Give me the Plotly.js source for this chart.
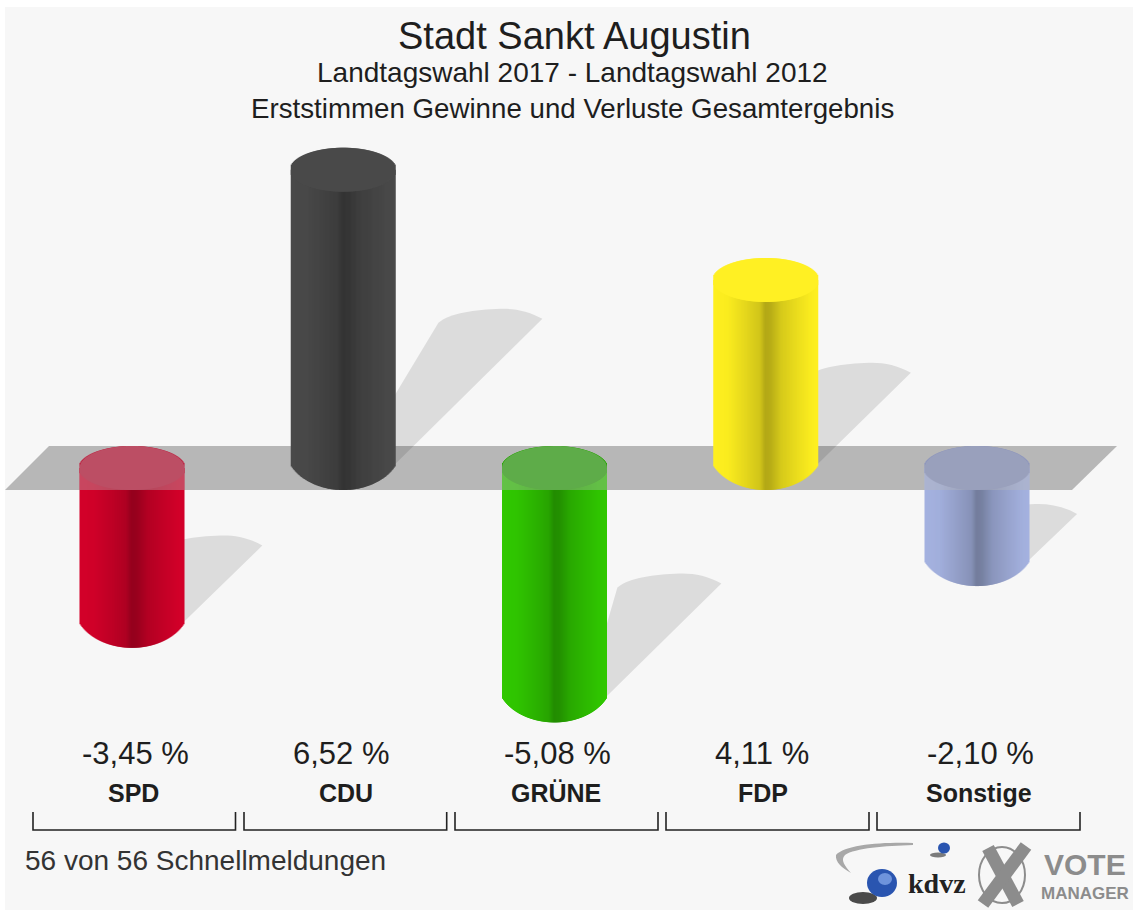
<!DOCTYPE html>
<html><head><meta charset="utf-8">
<script src="https://cdn.plot.ly/plotly-3.0.1.min.js"></script>
<style>html,body{margin:0;padding:0;background:#fff;overflow:hidden}#chart{width:1133px;height:911px}</style>
</head><body><div id="chart"></div>
<script>
// ---- data ----
const parties = ["SPD","CDU","GRÜNE","FDP","Sonstige"];
const values = [-3.45, 6.52, -5.08, 4.11, -2.10];
const valueLabels = ["-3,45 %","6,52 %","-5,08 %","4,11 %","-2,10 %"];
const baseColors = [[212,0,42],[74,74,74],[48,200,0],[255,240,32],[165,178,224]];
const capColors = [[190,15,50],[74,74,74],[40,165,5],[255,240,36],[135,145,190]];
const shadeStops = [[-1,1],[-0.7,0.98],[-0.35,0.89],[-0.1,0.82],[0.0,0.70],[0.1,0.72],[0.3,0.84],[0.6,0.92],[0.85,0.98],[1,1]];

// ---- scale: pixels per unit of the two axes ----
const pxX = 211.25, pxY = 45.75, x0 = 132, y0 = 468, W = 1133, H = 911;
const X = p => (p - x0) / pxX, Y = p => (y0 - p) / pxY;
const ry = 22 / pxY, halfPx = 53, stripN = 104;

function shade(t){
  for(let i=1;i<shadeStops.length;i++){
    const a=shadeStops[i-1], b=shadeStops[i];
    if(t<=b[0]){ return a[1]+(b[1]-a[1])*(t-a[0])/(b[0]-a[0]); }
  }
  return 1;
}
const rgb = (c,k=1) => `rgb(${Math.round(c[0]*k)},${Math.round(c[1]*k)},${Math.round(c[2]*k)})`;

// cylinders: overlapping narrow bars whose ends follow the curves
const body={x:[],base:[],y:[],color:[]}, cap={x:[],base:[],y:[],color:[]};
values.forEach((v,i)=>{
  for(let s=0;s<stripN;s++){
    const off=s+0.5-stripN/2, t=off/halfPx, xc=i+off/pxX, h=ry*Math.sqrt(1-t*t);
    const foot=(42.4*Math.sqrt(1-0.85*t*t)-20.4)/pxY;
    const lo=Math.min(v,0)-foot, hi=Math.max(v,0);
    body.x.push(xc); body.base.push(lo); body.y.push(hi-lo); body.color.push(rgb(baseColors[i],shade(t)));
    cap.x.push(xc); cap.base.push(hi-h); cap.y.push(2*h); cap.color.push(rgb(capColors[i]));
  }
});
const barW = 2.02/pxX;
const traces=[
 {type:'bar',opacity:1,x:body.x,base:body.base,y:body.y,width:barW,marker:{color:body.color,opacity:1,line:{width:0}},hoverinfo:'skip',showlegend:false},
 {type:'bar',opacity:1,x:cap.x,base:cap.base,y:cap.y,width:barW,marker:{color:cap.color,opacity:1,line:{width:0}},hoverinfo:'skip',showlegend:false}
];

// ---- shapes ----
const shapes=[];
const poly=(pts,fill,layer='below')=>shapes.push({type:'path',layer,line:{width:0},fillcolor:fill,
   path:'M'+pts.map(p=>X(p[0])+','+Y(p[1])).join('L')+'Z'});
shapes.push({type:'rect',layer:'below',x0:X(5),x1:X(W),y0:Y(7),y1:Y(910),fillcolor:'#f7f7f7',line:{width:0}});
poly([[5,490],[1072,490],[1117,446],[49,446]],'#b7b7b7');

const c=(a,b)=>X(a)+','+Y(b);
// shadows fall up and to the right, proportional to the value
values.forEach((v,i)=>{
  const cx=i*pxX+x0, R=cx+halfPx, h=Math.abs(v)*pxY, s=0.49*h;
  const foot=y0+(v<0?h:0)-3, tx=R+s, ty=foot-s;
  shapes.push({type:'path',layer:'below',line:{width:0},fillcolor:'rgba(0,0,0,0.105)',
    path:`M${c(R-2,foot)}L${c(tx,ty)}C${c(tx-14,ty-8)},${c(tx-28,ty-10.5)},${c(tx-42,ty-10)}`+
         `C${c(tx-68,ty-9)},${c(tx-92,ty-6)},${c(tx-104,ty+4)}L${c(R-2,foot-69)}Z`});
  // the grey band lies over the upper part of the cylinders that hang below it
  if(v<0){
    const k=0.5523, L=cx-halfPx+0.5, Rr=cx+halfPx-0.5, a=halfPx-0.5, top=y0-22;
    shapes.push({type:'path',layer:'above',line:{width:0},fillcolor:'rgba(183,183,183,0.38)',
      path:`M${c(L,490)}L${c(L,y0)}C${c(L,y0-22*k)},${c(cx-a*k,top)},${c(cx,top)}`+
           `C${c(cx+a*k,top)},${c(Rr,y0-22*k)},${c(Rr,y0)}L${c(Rr,490)}Z`});
  }
});

// brackets below each party
const brackets=[[33,235.5],[244,446.7],[455,658],[666,869],[877,1080]];
brackets.forEach(b=>shapes.push({type:'path',layer:'above',fillcolor:'rgba(0,0,0,0)',line:{color:'#222',width:1.6},
  path:`M${X(b[0])},${Y(812)}L${X(b[0])},${Y(830)}L${X(b[1])},${Y(830)}L${X(b[1])},${Y(812)}`}));

// logo marks
const ell=(cx,cy,a,b,fill,line)=>shapes.push({type:'circle',layer:'above',x0:X(cx-a),x1:X(cx+a),y0:Y(cy+b),y1:Y(cy-b),
   fillcolor:fill,line:line||{width:0}});
const lp=(d)=>d.replace(/(-?[\d.]+) (-?[\d.]+)/g,(m,a,b)=>X(+a)+','+Y(+b));
shapes.push({type:'path',layer:'above',line:{width:0},fillcolor:'#a8a8a8',
  path:lp('M913 843 C880 842 845 845 836 855 C835 862 842 868 851 873 C845 866 840 860 845 855 C855 848 885 846 913 845 Z')});
ell(863,898,14,6,'rgba(30,30,30,0.8)');
ell(882,883,15,14,'#2a55b0');
ell(885,879,7,6,'#6f94dc');
ell(938,855,8,2.5,'rgba(40,40,40,0.6)');
ell(944,848,6,5.5,'#2a55b0');
ell(1002,875,23,28,'rgba(0,0,0,0)',{color:'#8c8c8c',width:2});
shapes.push({type:'line',layer:'above',x0:X(988),y0:Y(848),x1:X(1018),y1:Y(904),line:{color:'#8c8c8c',width:13}});
shapes.push({type:'line',layer:'above',x0:X(1026),y0:Y(846),x1:X(983),y1:Y(904),line:{color:'#8c8c8c',width:13}});

// ---- text ----
const FONT='"Liberation Sans", Arial, sans-serif', INK='#1e1e1e';
const note=(text,xp,yp,size,extra={})=>({text,x:X(xp),y:Y(yp),xref:'x',yref:'y',showarrow:false,
  xanchor:extra.anchor||'center',yanchor:'middle',font:{family:extra.family||FONT,size,color:extra.color||INK}});
const valueX=[135,341,557,762,980], labelX=[133,346,556,763,979];
const annotations=[
  note('Stadt Sankt Augustin',574,36,38),
  note('Landtagswahl 2017 - Landtagswahl 2012',572,72,28),
  note('Erststimmen Gewinne und Verluste Gesamtergebnis',572,108,27.7),
  note('56 von 56 Schnellmeldungen',23,860,28,{anchor:'left',color:'#333'}),
  note('<b>kdvz</b>',937,883,28,{family:'"Liberation Serif", serif',color:'#222'}),
  note('<b>VOTE</b>',1085,864,30,{color:'#8c8c8c'}),
  note('<b>MANAGER</b>',1085,893,17,{color:'#8c8c8c'})
];
parties.forEach((p,i)=>{
  annotations.push(note(valueLabels[i],valueX[i],753,31));
  annotations.push(note('<b>'+p+'</b>',labelX[i],793,25));
});

Plotly.newPlot('chart',traces,{
  width:W,height:H,margin:{l:0,r:0,t:0,b:0},
  paper_bgcolor:'#ffffff',plot_bgcolor:'rgba(0,0,0,0)',
  barmode:'overlay',showlegend:false,
  xaxis:{range:[X(0),X(W)],visible:false,fixedrange:true},
  yaxis:{range:[Y(H),Y(0)],visible:false,fixedrange:true},
  shapes,annotations
},{displayModeBar:false});
</script></body></html>
